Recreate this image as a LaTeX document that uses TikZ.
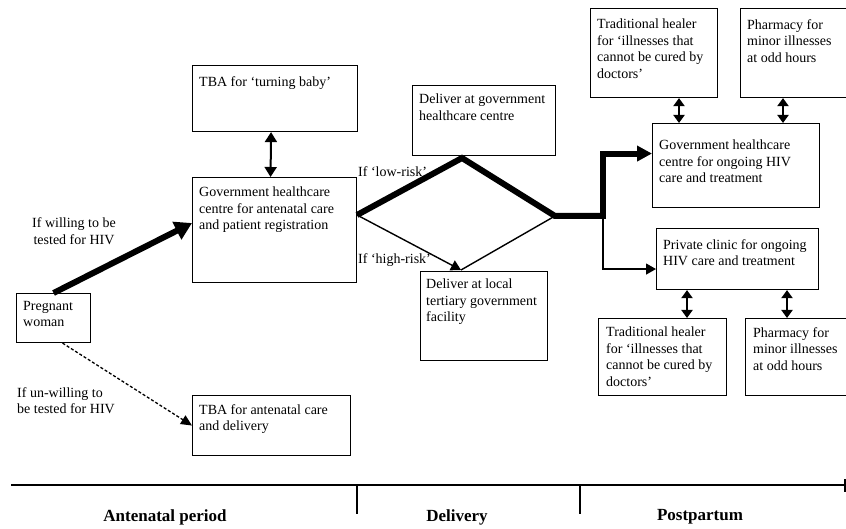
\documentclass[tikz,border=0pt]{standalone}
\usepackage{fontspec}
\setmainfont{Liberation Serif}
\usetikzlibrary{arrows.meta,calc}
\begin{document}
\begin{tikzpicture}[x=1pt,y=-1pt,
  box/.style={draw, line width=1.1pt, inner sep=0pt, anchor=north west},
  txt/.style={inner sep=0pt, anchor=north west, align=left, font=\fontsize{14}{16.5}\selectfont},
  lbl/.style={inner sep=0pt, font=\fontsize{14}{16.5}\selectfont},
  period/.style={inner sep=0pt, font=\bfseries\fontsize{17}{20}\selectfont},
  bigarrow/.style={line width=6pt, line join=miter, -{Triangle[length=17pt,width=19pt]}},
  thinarrow/.style={line width=1.4pt, -{Triangle[length=10pt,width=11pt]}},
  thinline/.style={line width=1.4pt},
  dasharrow/.style={line width=1.3pt, dash pattern=on 3pt off 2pt, -{Triangle[length=11pt,width=10pt]}},
  twoway/.style={line width=2pt, {Triangle[length=10pt,width=12pt]}-{Triangle[length=10pt,width=12pt]}},
  twowaysmall/.style={line width=2pt, {Triangle[length=8pt,width=11pt]}-{Triangle[length=8pt,width=11pt]}},
  axis/.style={line width=1.2pt}
]
\useasboundingbox (0,0) rectangle (846,529);

% boxes
\node[box, minimum width=165, minimum height=66] (tba1) at (192,65) {};
\node[txt] (tba1t) at (199,76) {TBA for `turning baby'};

\node[box, minimum width=164, minimum height=105] (gov) at (192,177) {};
\node[txt] (govt) at (199,187) {Government healthcare\\centre for antenatal care\\and patient registration};

\node[box, minimum width=74, minimum height=49] (pw) at (16,293) {};
\node[txt] (pwt) at (23,301) {Pregnant\\woman};

\node[box, minimum width=158, minimum height=60] (tba2) at (192,395) {};
\node[txt] (tba2t) at (199,404) {TBA for antenatal care\\and delivery};

\node[box, minimum width=143, minimum height=70] (dgov) at (412,85) {};
\node[txt] (dgovt) at (419,94) {Deliver at government\\healthcare centre};

\node[box, minimum width=127, minimum height=89] (dloc) at (420,271) {};
\node[txt] (dloct) at (426,279) {Deliver at local\\tertiary government\\facility};

\node[box, minimum width=127, minimum height=89] (th1) at (590,8) {};
\node[txt] (th1t) at (597,19) {Traditional healer\\for `illnesses that\\cannot be cured by\\doctors'};

\node[box, minimum width=110, minimum height=89] (ph1) at (740,8) {};
\node[txt] (ph1t) at (747,19) {Pharmacy for\\minor illnesses\\at odd hours};

\node[box, minimum width=167, minimum height=84] (govhiv) at (652,123) {};
\node[txt] (govhivt) at (659,140) {Government healthcare\\centre for ongoing HIV\\care and treatment};

\node[box, minimum width=162, minimum height=61] (priv) at (656,228) {};
\node[txt] (privt) at (663,239) {Private clinic for ongoing\\HIV care and treatment};

\node[box, minimum width=128, minimum height=77] (th2) at (598,318) {};
\node[txt] (th2t) at (606,327) {Traditional healer\\for `illnesses that\\cannot be cured by\\doctors'};

\node[box, minimum width=105, minimum height=77] (ph2) at (745,318) {};
\node[txt] (ph2t) at (753,327) {Pharmacy for\\minor illnesses\\at odd hours};

% labels
\node[lbl, align=center] (willing) at (74,231) {If willing to be\\tested for HIV};
\node[lbl, align=left, anchor=north west] (unwilling) at (17,387) {If un-willing to\\be tested for HIV};
\node[lbl, anchor=west] (low) at (358,172) {If `low-risk'};
\node[lbl, anchor=west] (high) at (358,260) {If `high-risk'};

% junction points
\coordinate (L) at (357,215);
\coordinate (T) at (462,158);
\coordinate (R) at (555,216);
\coordinate (B) at (461,270);
\coordinate (J) at (603,216);

% connectors
\draw[bigarrow] (pw.north) -- ([yshift=7]gov.west);
\draw[dasharrow] ([xshift=9]pw.south) -- (tba2.west);
\draw[twoway] ([xshift=-4]tba1.south) -- ([xshift=-4]gov.north);
\draw[line width=6pt, line join=miter] (L) -- (T) -- (R) -- (J);
\draw[line width=6pt, line join=miter, -{Triangle[length=15pt,width=15pt]}] (R) -- (J) |- ([yshift=12]govhiv.west);
\draw[thinarrow] (L) -- (B);
\draw[thinline] (R) -- (B);
\draw[thinarrow] (J) |- ([yshift=-10]priv.west);
\draw[twowaysmall] (th1.south -| 679,0) -- (govhiv.north -| 679,0);
\draw[twowaysmall] (ph1.south -| 783,0) -- (govhiv.north -| 783,0);
\draw[twowaysmall] (priv.south -| 687,0) -- (th2.north -| 687,0);
\draw[twowaysmall] (priv.south -| 787,0) -- (ph2.north -| 787,0);

% timeline
\coordinate (A0) at (11,485);
\coordinate (A1) at (846,485);
\draw[axis] (A0) -- (A1);
\draw[axis] (357,485) -- (357,514);
\draw[axis] (580,485) -- (580,514);
\draw[axis] (845,479) -- (845,492);
\node[period] (p1) at (165,517) {Antenatal period};
\node[period] (p2) at (457,517) {Delivery};
\node[period] (p3) at (700,517) {Postpartum};
\end{tikzpicture}
\end{document}
